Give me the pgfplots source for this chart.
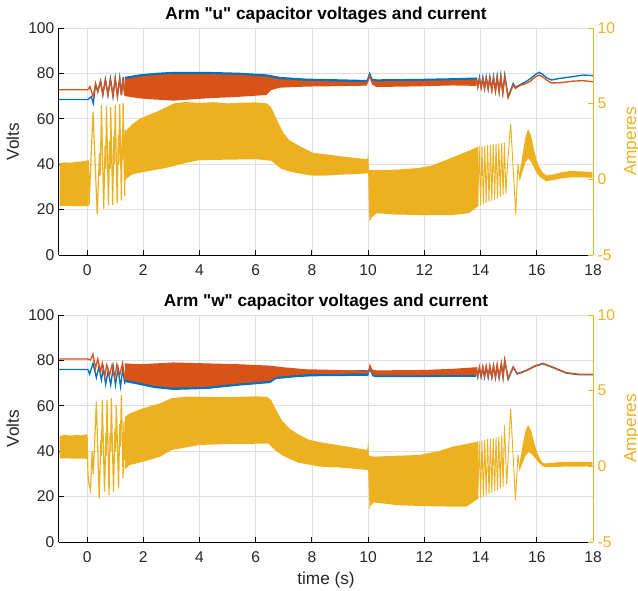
\documentclass[border=0pt]{standalone}
\usepackage{fontspec}
\setmainfont{Liberation Sans}
\usepackage{pgfplots}
\pgfplotsset{compat=1.18}
\definecolor{mB}{RGB}{0,114,189}
\definecolor{mO}{RGB}{217,83,25}
\definecolor{mY}{RGB}{237,177,32}
\definecolor{mG}{RGB}{38,38,38}
\definecolor{gridc}{RGB}{223,223,223}
\pgfplotsset{
  mybase/.style={
    width=400.5pt, height=170.25pt, scale only axis,
    xmin=-1, xmax=18,
    /pgf/number format/assume math mode=true,
    tick label style={font=\fontsize{11.7}{13}\selectfont, text=mG},
    label style={font=\fontsize{12.9}{15}\selectfont, text=mG},
    tick align=inside, major tick length=3.75pt,
  },
  leftax/.style={mybase,
    axis x line*=bottom, axis y line*=left,
    axis line style={-, draw=black, line width=0.75pt},
    ymin=0, ymax=100, ytick={0,20,...,100}, xtick={0,2,...,18},
    grid=major, major grid style={gridc, line width=0.6pt},
    tick style={black, line width=0.75pt},
    title style={font=\bfseries\fontsize{12.9}{15}\selectfont, yshift=-6pt},
    ylabel=Volts,
    xticklabel style={yshift=-3.5pt},
  },
  rightax/.style={mybase,
    axis x line=none, xtick=\empty, axis y line*=right,
    y axis line style={-, draw=mY, line width=0.75pt},
    ymin=-5, ymax=10, ytick={-5,0,5,10},
    tick style={mY, line width=0.75pt},
    yticklabel style={text=mY},
    ylabel=Amperes, ylabel style={text=mY},
  },
}
\begin{document}
\begin{tikzpicture}
%================ TOP (arm u) =================
\begin{axis}[leftax, at={(0pt,0pt)}, anchor=south west,
  title={Arm \textquotedbl u\textquotedbl{} capacitor voltages and current}]
\addplot[mB, line width=1pt] coordinates {(-1,68.5) (0.03,68.5) (0.15,69.8) (0.22,66.8) (0.3,75.2) (0.38,72.2) (0.48,76.7) (0.56,70.5) (0.65,77.5) (0.74,70.5) (0.83,77.8) (0.92,70) (1.0,78) (1.08,70) (1.16,78.1) (1.22,70.5) (1.28,78.3) (1.34,70.5)};
\addplot[fill=mB, draw=none] coordinates {(1.34,78.5) (1.87,79.6) (2.5,80.3) (3.06,80.7) (4.25,80.7) (5.43,80.3) (6.38,79.6) (6.85,78.5) (7.8,77.7) (9,77.4) (9.95,77.1) (10.05,80.8) (10.15,77.7) (10.3,77.4) (11.8,77.6) (13,77.9) (13.85,78.2)
 (13.85,75.5) (13,75.2) (11.8,75) (10.3,74.8) (10.15,75.5) (10.05,78) (9.95,74.8) (9,74.8) (7.8,75) (6.85,75.5) (6.38,76.6) (5.43,77.3) (4.25,77.7) (3.06,77.7) (2.5,77.3) (1.87,76.6) (1.34,75.5)};
\addplot[mB, line width=1pt] coordinates {(13.85,78.2) (13.9,74.2) (13.96,78.2) (14.02,73.8) (14.08,78.3) (14.14,73.5) (14.2,78.4) (14.27,73.2) (14.33,78.5) (14.4,72.8) (14.46,78.6) (14.53,72.4) (14.59,78.8) (14.66,72) (14.72,79) (14.79,71.5) (14.86,79.3) (14.98,69.7) (15.16,75.6) (15.24,73.9) (15.39,74.9) (15.6,76.3) (15.75,77.5) (15.95,79.5) (16.08,80.5) (16.2,79.7) (16.34,78.1) (16.52,77.1) (16.82,77.8) (17.3,78.6) (17.65,79.3) (18,79)};
\addplot[mO, line width=1pt] coordinates {(-1,72.8) (0.03,72.8) (0.1,74.2) (0.22,69.7) (0.3,75.6) (0.38,71.8) (0.48,76.4) (0.56,70.8) (0.65,77.1) (0.74,70.5) (0.83,77.3) (0.92,70) (1.0,77.5) (1.08,70) (1.16,77.6) (1.22,70.3) (1.28,77.8) (1.34,70.3)};
\addplot[fill=mO, draw=none] coordinates {(1.34,77.5) (1.87,78.6) (2.5,79.3) (3.06,79.7) (4.25,79.7) (5.43,79.3) (6.38,78.6) (6.85,77.5) (7.8,76.7) (9,76.4) (9.95,76.1) (10.05,79.5) (10.15,76.7) (10.3,76.5) (11.8,76.7) (13,77) (13.85,77.3)
 (13.85,74.5) (13,74.7) (11.8,74.3) (10.3,74) (10.15,75) (10.05,78) (9.95,74.6) (9,74.4) (7.8,74.2) (6.85,73.7) (6.56,72.7) (6.38,70.5) (5.43,69.7) (4.25,69) (3.06,68) (2.4,68.5) (1.87,69) (1.34,70)};
\addplot[mO, line width=1pt] coordinates {(13.85,77.3) (13.9,74) (13.96,77.5) (14.02,73.6) (14.08,77.6) (14.14,73.3) (14.2,77.7) (14.27,73) (14.33,77.8) (14.4,72.6) (14.46,78) (14.53,72.2) (14.59,78.1) (14.66,71.8) (14.72,78.3) (14.79,71.3) (14.86,78.6) (14.98,69.3) (15.16,74.9) (15.24,73.4) (15.39,74.6) (15.6,75.5) (15.75,76.4) (15.95,78.5) (16.08,79.3) (16.2,78.6) (16.34,77.1) (16.52,75.8) (16.82,75.9) (17.3,76.6) (17.65,76.8) (18,76.3)};
\end{axis}
\begin{axis}[rightax, at={(0pt,0pt)}, anchor=south west]
\addplot[fill=mY, draw=none] coordinates {(-0.98,1.07) (-0.8,1.12) (-0.6,1.1) (-0.4,1.16) (-0.2,1.18) (0,1.25) (0.05,1.27) (0.05,-1.78) (-0.98,-1.75)};
\addplot[mY, line width=0.9pt] coordinates {(0.05,1.22) (0.07,-1.7) (0.21,4.45) (0.36,-2.3) (0.44,1.75) (0.47,0.25) (0.51,4.9) (0.59,-1.93) (0.64,2.2) (0.66,0.7) (0.69,4.83) (0.76,-1.7) (0.8,2.5) (0.82,0.7) (0.84,4.75) (0.91,-1.7) (0.95,2.8) (0.97,1.0) (1.0,4.9) (1.07,-1.55) (1.11,2.95) (1.13,1.0) (1.16,4.98) (1.22,-1.4) (1.25,2.8) (1.26,1.3) (1.28,5.05) (1.34,-1.1) (1.36,3.25)};
\addplot[fill=mY, draw=none] coordinates {(1.34,2.5) (1.4,3.25) (1.6,3.63) (1.87,4.0) (2.2,4.27) (2.46,4.45) (2.8,4.75) (3.1,5.02) (3.5,5.11) (4.0,5.05) (4.5,5.1) (5.0,5.02) (5.5,5.07) (6.0,5.08) (6.4,5.02) (6.55,4.75) (6.7,4.15) (6.85,3.55) (7.0,3.03) (7.2,2.58) (7.56,2.2) (8.04,1.75) (8.5,1.65) (9.0,1.53) (9.5,1.42) (9.97,1.33) (10.0,1.68) (10.03,0.63) (10.3,0.6) (11.0,0.64) (11.8,0.75) (12.3,0.93) (12.8,1.3) (13.2,1.6) (13.6,1.9) (13.9,2.15)
 (13.9,-1.78) (13.6,-2.23) (13.0,-2.36) (12.0,-2.36) (11.0,-2.33) (10.3,-2.24) (10.12,-2.53) (10.05,-2.8) (10.02,-1.25) (10.0,0.4) (9.5,0.34) (9.0,0.31) (8.5,0.25) (8.0,0.25) (7.5,0.4) (7.2,0.52) (6.9,0.7) (6.7,1.0) (6.55,1.23) (6.0,1.33) (5.0,1.3) (4.0,1.27) (3.5,1.08) (2.8,0.75) (2.0,0.48) (1.6,0.33) (1.34,-0.05)};
\addplot[mY, line width=0.7pt] coordinates {(13.9,-1.78) (13.95,2.2) (14.0,-1.72) (14.05,2.22) (14.1,-1.65) (14.15,2.25) (14.2,-1.58) (14.25,2.28) (14.3,-1.5) (14.35,2.3) (14.4,-1.42) (14.45,2.33) (14.5,-1.33) (14.55,2.35) (14.6,-1.25) (14.65,2.38) (14.7,-1.15) (14.75,2.4) (14.8,-1.05) (14.85,2.43) (14.9,-0.95) (14.96,1.0) (15.07,3.7) (15.25,-2.3) (15.33,1.0) (15.39,0.1) (15.45,1.0)};
\addplot[fill=mY, draw=none] coordinates {(15.4,0.4) (15.5,1.75) (15.6,2.8) (15.69,3.33) (15.8,2.88) (15.9,1.98) (16.0,1.23) (16.1,0.78) (16.2,0.48) (16.35,0.25) (16.35,-0.13) (16.2,0.03) (16.1,0.18) (16.0,0.4) (15.9,0.78) (15.8,1.15) (15.7,1.38) (15.6,1.15) (15.5,0.55) (15.4,-0.05)};
\addplot[fill=mY, draw=none] coordinates {(16.3,0.25) (16.6,0.33) (16.9,0.48) (17.2,0.55) (17.6,0.52) (17.98,0.49) (17.98,0.1) (17.6,0.13) (17.2,0.13) (16.9,0.07) (16.6,-0.05) (16.3,-0.13)};
\end{axis}
%================ BOTTOM (arm w) =================
\begin{axis}[leftax, at={(0pt,-215.25pt)}, anchor=south west,
  title={Arm \textquotedbl w\textquotedbl{} capacitor voltages and current}, xlabel={time (s)}]
\addplot[mB, line width=1pt] coordinates {(-1,76) (0.03,76) (0.09,73.9) (0.21,78.7) (0.33,72.4) (0.42,77.2) (0.51,71.4) (0.58,76.5) (0.66,69.5) (0.75,75.4) (0.84,69.2) (0.93,77) (1.01,69.2) (1.1,76.5) (1.19,68.4) (1.27,76.5) (1.34,69.5)};
\addplot[fill=mB, draw=none] coordinates {(1.34,70.5) (1.87,69.2) (2.4,67.8) (3.06,67) (4.25,67.4) (5.43,68.9) (6.5,70) (6.73,71.8) (7.44,72.6) (8,73) (9.93,73.2) (10.0,73) (10.06,75.5) (10.15,73) (10.3,72.6) (12,72.6) (13,72.8) (13.85,72.8)
 (13.85,75) (13,75) (12,74.9) (10.3,74.9) (10.15,75.5) (10.06,77.5) (10,75.5) (9.93,75.7) (8,75.5) (7.44,75.1) (6.73,74.3) (6.5,72.5) (5.43,71.4) (4.25,69.9) (3.06,69.5) (2.4,70.3) (1.87,71.7) (1.34,73)};
\addplot[mB, line width=1pt] coordinates {(13.85,76.5) (13.9,72.8) (13.96,76.6) (14.02,72.7) (14.08,76.8) (14.14,72.6) (14.2,77) (14.27,72.5) (14.33,77.2) (14.4,72.4) (14.46,77.4) (14.53,72.3) (14.59,77.7) (14.66,72.2) (14.74,78.5) (14.8,72.4) (14.86,80) (14.98,71.6) (15.16,77) (15.3,74) (15.47,74.7) (15.65,75.6) (15.95,77.5) (16.22,78.5) (16.58,76.8) (17.05,74.4) (17.5,73.7) (18,73.7)};
\addplot[mO, line width=1pt] coordinates {(-1,80.6) (0.03,80.6) (0.12,80.2) (0.21,82.7) (0.3,76.5) (0.38,80.6) (0.48,75) (0.54,78.7) (0.63,72.8) (0.7,78) (0.8,73.6) (0.89,78) (0.98,72.1) (1.06,78.3) (1.16,73.6) (1.26,78.7) (1.34,72)};
\addplot[fill=mO, draw=none] coordinates {(1.34,78.7) (1.87,78.3) (3.06,79.1) (4.25,78.7) (5.43,78.3) (6.5,77.7) (6.97,77) (7.8,76.1) (9.93,75.5) (10.0,75.5) (10.06,78.7) (10.15,76) (10.3,75.6) (12,75.8) (13,76.3) (13.85,77)
 (13.85,73.5) (13,73.6) (12,73.4) (10.3,73.4) (10.15,74) (10.06,76.5) (10.0,74) (9.93,74.2) (8,74) (7.44,73.6) (6.73,72.8) (6.5,71) (5.43,69.9) (4.25,68.4) (3.06,68) (2.4,68.8) (1.87,70.2) (1.34,71.5)};
\addplot[mO, line width=1pt] coordinates {(13.85,77) (13.9,73.2) (13.96,77.1) (14.02,73.1) (14.08,77.2) (14.14,73) (14.2,77.4) (14.27,72.9) (14.33,77.6) (14.4,72.8) (14.46,77.8) (14.53,72.7) (14.59,78) (14.66,72.6) (14.74,78.7) (14.8,72.8) (14.86,80.2) (14.98,72.1) (15.16,77.2) (15.3,74.3) (15.47,74.9) (15.65,75.8) (15.95,77.7) (16.22,78.7) (16.58,77) (17.05,74.6) (17.5,73.9) (18,73.9)};
\end{axis}
\begin{axis}[rightax, at={(0pt,-215.25pt)}, anchor=south west]
\addplot[fill=mY, draw=none] coordinates {(-0.98,2.0) (-0.8,2.08) (-0.6,2.03) (-0.4,2.07) (-0.2,2.05) (0,2.12) (0,0.5) (-0.98,0.53)};
\addplot[mY, line width=0.9pt] coordinates {(0,2.0) (0.03,-0.5) (0.05,-1.01) (0.12,-1.57) (0.18,1.0) (0.22,-0.5) (0.33,4.27) (0.43,-2.12) (0.49,1.75) (0.51,0.7) (0.54,4.39) (0.62,-1.67) (0.67,2.2) (0.68,0.7) (0.71,4.39) (0.78,-1.9) (0.82,2.2) (0.84,1.0) (0.86,4.5) (0.94,-1.67) (0.99,2.5) (1.01,1.0) (1.04,4.06) (1.12,-1.46) (1.16,2.8) (1.18,1.3) (1.22,4.72) (1.28,-0.8) (1.31,2.95) (1.34,0.4)};
\addplot[fill=mY, draw=none] coordinates {(1.34,3.25) (1.52,3.5) (2.0,3.84) (2.6,4.17) (3.0,4.5) (3.5,4.6) (4.0,4.6) (5.0,4.57) (6.0,4.63) (6.4,4.59) (6.55,4.38) (6.65,4.0) (6.92,3.06) (7.2,2.5) (7.5,2.13) (7.9,1.75) (8.28,1.6) (9.0,1.38) (9.5,1.23) (9.97,1.08) (10.0,1.63) (10.03,0.7) (10.2,0.64) (11.0,0.7) (11.8,0.75) (12.5,1.0) (13.0,1.3) (13.5,1.48) (13.9,1.63)
 (13.9,-2.15) (13.5,-2.66) (13.0,-2.66) (12.0,-2.63) (11.0,-2.56) (10.2,-2.38) (10.08,-2.6) (10.05,-2.89) (10.02,-1.25) (10.0,-0.25) (9.5,-0.16) (9.0,-0.08) (8.28,-0.02) (7.5,0.25) (7.0,0.67) (6.68,1.08) (6.45,1.5) (5.0,1.48) (4.0,1.41) (3.0,1.08) (2.6,0.64) (2.0,0.31) (1.52,0.09) (1.34,-0.2)};
\addplot[mY, line width=0.7pt] coordinates {(13.9,-2.15) (13.95,1.68) (14.0,-2.08) (14.05,1.72) (14.1,-2.0) (14.15,1.76) (14.2,-1.92) (14.25,1.8) (14.3,-1.84) (14.35,1.84) (14.4,-1.75) (14.45,1.88) (14.5,-1.66) (14.55,1.92) (14.6,-1.56) (14.65,1.98) (14.7,-1.45) (14.75,2.05) (14.8,-1.34) (14.85,2.73) (14.93,-1.2) (15.07,3.79) (15.24,-2.23) (15.33,0.75) (15.39,-0.13) (15.45,0.7)};
\addplot[fill=mY, draw=none] coordinates {(15.4,0.25) (15.5,1.45) (15.6,2.35) (15.69,2.73) (15.8,2.35) (15.9,1.6) (16.0,1.0) (16.1,0.55) (16.2,0.25) (16.28,0.18) (16.28,-0.05) (16.2,0.03) (16.1,0.18) (16.0,0.4) (15.9,0.63) (15.8,0.85) (15.7,0.93) (15.6,0.7) (15.5,0.25) (15.4,-0.2)};
\addplot[fill=mY, draw=none] coordinates {(16.25,0.18) (16.6,0.25) (17,0.3) (17.5,0.3) (17.98,0.28) (17.98,0.0) (17.5,-0.02) (17,-0.02) (16.6,-0.04) (16.25,-0.05)};
\end{axis}
\pgfresetboundingbox
\path[use as bounding box] (-44.25pt,191.25pt) rectangle (434.25pt,-251.25pt);
\end{tikzpicture}
\end{document}
